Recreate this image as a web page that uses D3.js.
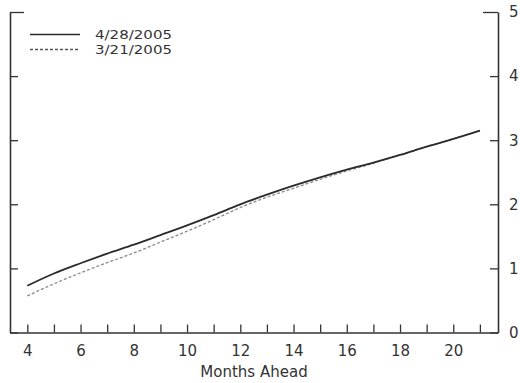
<!DOCTYPE html>
<html>
<head>
<meta charset="utf-8">
<script src="https://cdn.jsdelivr.net/npm/d3@7"></script>
<style>
  html, body { margin: 0; padding: 0; background: #fff; }
  svg { display: block; }
  text { font-family: "DejaVu Sans", sans-serif; fill: #333; }
</style>
</head>
<body>
<svg id="chart" width="520" height="383"></svg>
<script>
// Months ahead (horizon of the futures-implied path)
const months = [4, 5, 6, 7, 8, 9, 10, 11, 12, 13, 14, 15, 16, 17, 18, 19, 20, 21];
// Expected rate path, percent
const path0428 = [0.73, 0.92, 1.08, 1.23, 1.37, 1.52, 1.67, 1.83, 2.00, 2.15, 2.29, 2.42, 2.54, 2.65, 2.77, 2.90, 3.02, 3.15];
const path0321 = [0.57, 0.76, 0.93, 1.09, 1.24, 1.41, 1.58, 1.76, 1.95, 2.11, 2.25, 2.39, 2.52, 2.64, 2.77, 2.90, 3.02, 3.15];
const seriesLabels = ["4/28/2005", "3/21/2005"];
const xTicks = months;
const yTicks = [0, 1, 2, 3, 4, 5];
const xTitle = "Months Ahead";

const svg = d3.select("#chart");
const plotLeft = 10, plotRight = 498, plotTop = 12, plotBottom = 332.5;

const x = d3.scaleLinear().domain([3.35, 21.68]).range([plotLeft, plotRight]);
const y = d3.scaleLinear().domain([0, 5]).range([plotBottom, plotTop]);

const axisColor = "#333";

// bottom axis: inward ticks every month, labels every two months
const gx = svg.append("g")
  .attr("transform", `translate(0,${plotBottom})`)
  .call(d3.axisBottom(x).tickValues(xTicks).tickSizeInner(-8).tickSizeOuter(0)
    .tickPadding(13).tickFormat(d => d % 2 === 0 ? d : ""));

// right axis with labels
const gr = svg.append("g")
  .attr("transform", `translate(${plotRight},0)`)
  .call(d3.axisRight(y).tickValues(yTicks).tickSizeInner(-8).tickSizeOuter(0)
    .tickPadding(11).tickFormat(d3.format("d")));

// left axis, ticks only
const gl = svg.append("g")
  .attr("transform", `translate(${plotLeft},0)`)
  .call(d3.axisLeft(y).tickValues(yTicks).tickSizeInner(-8).tickSizeOuter(0)
    .tickFormat(""));

[gx, gr, gl].forEach(g => {
  g.select(".domain").attr("stroke", axisColor).attr("stroke-width", 1.6);
  g.selectAll(".tick line").attr("stroke", axisColor).attr("stroke-width", 1.3);
  g.selectAll(".tick text").attr("font-family", "DejaVu Sans, sans-serif")
    .attr("font-size", 15).attr("fill", "#333");
});
// longer corner ticks at the top of the frame
gr.selectAll(".tick").filter(d => d === 5).select("line").attr("x2", -15);
gl.selectAll(".tick").filter(d => d === 5).select("line").attr("x2", 14);

svg.append("text")
  .attr("x", (plotLeft + plotRight) / 2)
  .attr("y", 377)
  .attr("text-anchor", "middle")
  .attr("font-size", 15)
  .text(xTitle);

const line = d3.line()
  .x((d, i) => x(months[i]))
  .y(d => y(d))
  .curve(d3.curveMonotoneX);

svg.append("path")
  .datum(path0321)
  .attr("d", line)
  .attr("fill", "none")
  .attr("stroke", "#8a8a8a")
  .attr("stroke-width", 1.3)
  .attr("stroke-dasharray", "3,2");

svg.append("path")
  .datum(path0428)
  .attr("d", line)
  .attr("fill", "none")
  .attr("stroke", "#2a2a2a")
  .attr("stroke-width", 1.8);

// legend
const legend = svg.append("g");
const styles = [
  { stroke: "#2a2a2a", width: 1.6, dash: null },
  { stroke: "#555", width: 1.3, dash: "3,2" }
];
seriesLabels.forEach((lab, i) => {
  const ly = 34.5 + i * 15;
  legend.append("line")
    .attr("x1", 30).attr("x2", 80).attr("y1", ly).attr("y2", ly)
    .attr("stroke", styles[i].stroke)
    .attr("stroke-width", styles[i].width)
    .attr("stroke-dasharray", styles[i].dash);
  legend.append("text")
    .attr("x", 95).attr("y", ly + 4.5)
    .attr("font-size", 12.8)
    .attr("textLength", 77)
    .attr("lengthAdjust", "spacingAndGlyphs")
    .text(lab);
});
</script>
</body>
</html>
